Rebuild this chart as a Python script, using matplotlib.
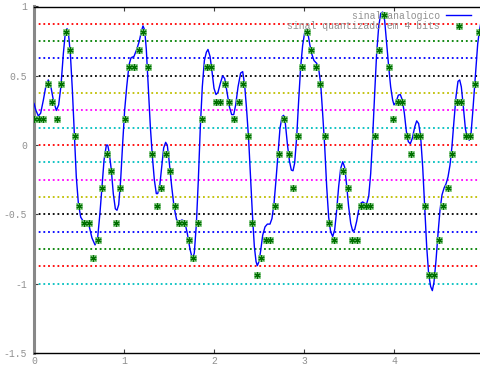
import numpy as np
import matplotlib
matplotlib.use("Agg")
import matplotlib.pyplot as plt
from matplotlib.lines import Line2D

# analog signal
t_analog = [0.000, 0.022, 0.048, 0.074, 0.104, 0.133, 0.159, 0.185, 0.215, 0.248,
            0.274, 0.300, 0.326, 0.348, 0.367, 0.385, 0.404, 0.426, 0.448, 0.470,
            0.493, 0.519, 0.548, 0.585, 0.615, 0.644, 0.678, 0.707, 0.733, 0.756,
            0.778, 0.804, 0.819, 0.837, 0.859, 0.881, 0.904, 0.922, 0.941, 0.963,
            0.985, 1.007, 1.030, 1.056, 1.078, 1.111, 1.141, 1.170, 1.193, 1.211,
            1.230, 1.248, 1.270, 1.293, 1.315, 1.337, 1.359, 1.374, 1.396, 1.419,
            1.441, 1.463, 1.481, 1.504, 1.530, 1.556, 1.585, 1.615, 1.644, 1.674,
            1.704, 1.733, 1.759, 1.781, 1.804, 1.826, 1.848, 1.870, 1.893, 1.915,
            1.933, 1.956, 1.978, 2.000, 2.022, 2.044, 2.070, 2.096, 2.119, 2.144,
            2.170, 2.196, 2.219, 2.241, 2.267, 2.296, 2.319, 2.341, 2.363, 2.385,
            2.404, 2.426, 2.448, 2.467, 2.481, 2.500, 2.519, 2.541, 2.567, 2.593,
            2.622, 2.644, 2.667, 2.689, 2.711, 2.733, 2.756, 2.774, 2.793, 2.815,
            2.837, 2.859, 2.878, 2.896, 2.919, 2.941, 2.963, 2.985, 3.007, 3.022,
            3.040, 3.063, 3.085, 3.111, 3.141, 3.163, 3.185, 3.207, 3.230, 3.252,
            3.274, 3.296, 3.319, 3.341, 3.363, 3.385, 3.407, 3.430, 3.452, 3.474,
            3.496, 3.519, 3.541, 3.563, 3.585, 3.607, 3.630, 3.652, 3.674, 3.696,
            3.719, 3.741, 3.763, 3.785, 3.807, 3.830, 3.852, 3.874, 3.896, 3.919,
            3.941, 3.963, 3.985, 4.000, 4.022, 4.048, 4.070, 4.093, 4.115, 4.137,
            4.159, 4.181, 4.204, 4.230, 4.252, 4.274, 4.296, 4.319, 4.341, 4.363,
            4.385, 4.407, 4.426, 4.444, 4.467, 4.489, 4.511, 4.533, 4.556, 4.578,
            4.600, 4.622, 4.644, 4.667, 4.689, 4.711, 4.730, 4.748, 4.770, 4.793,
            4.815, 4.837, 4.856, 4.874, 4.893, 4.911, 4.930, 4.948, 4.967]
v_analog = [0.30, 0.25, 0.21, 0.23, 0.325, 0.43, 0.47, 0.43, 0.325, 0.25,
            0.29, 0.43, 0.66, 0.81, 0.84, 0.79, 0.66, 0.40, 0.08, -0.23,
            -0.42, -0.52, -0.55, -0.55, -0.59, -0.67, -0.72, -0.67, -0.49, -0.30,
            -0.11, 0.00, 0.00, -0.06, -0.18, -0.35, -0.46, -0.47, -0.43, -0.25,
            0.01, 0.25, 0.42, 0.58, 0.63, 0.64, 0.69, 0.75, 0.82, 0.86,
            0.83, 0.69, 0.42, 0.13, -0.08, -0.25, -0.35, -0.35, -0.30, -0.16,
            -0.02, 0.02, 0.00, -0.13, -0.30, -0.445, -0.54, -0.55, -0.54, -0.55,
            -0.64, -0.75, -0.82, -0.78, -0.57, -0.25, 0.13, 0.42, 0.61, 0.67,
            0.69, 0.64, 0.53, 0.41, 0.365, 0.38, 0.445, 0.50, 0.48, 0.385,
            0.28, 0.22, 0.22, 0.29, 0.42, 0.52, 0.53, 0.43, 0.25, 0.04,
            -0.20, -0.49, -0.73, -0.84, -0.87, -0.84, -0.76, -0.65, -0.59, -0.57,
            -0.57, -0.53, -0.42, -0.25, -0.06, 0.12, 0.205, 0.215, 0.155, 0.01,
            -0.11, -0.18, -0.185, -0.13, 0.06, 0.325, 0.565, 0.72, 0.81, 0.835,
            0.82, 0.73, 0.66, 0.61, 0.59, 0.55, 0.445, 0.23, -0.01, -0.30,
            -0.52, -0.625, -0.66, -0.61, -0.47, -0.30, -0.17, -0.12, -0.16, -0.29,
            -0.445, -0.565, -0.62, -0.61, -0.55, -0.47, -0.42, -0.41, -0.42, -0.425,
            -0.37, -0.205, 0.06, 0.37, 0.66, 0.855, 0.95, 0.96, 0.90, 0.73,
            0.565, 0.42, 0.325, 0.29, 0.31, 0.36, 0.365, 0.325, 0.23, 0.10,
            0.025, 0.01, 0.05, 0.13, 0.175, 0.155, 0.06, -0.16, -0.445, -0.73,
            -0.93, -1.02, -1.05, -0.99, -0.83, -0.64, -0.47, -0.36, -0.31, -0.28,
            -0.23, -0.145, -0.01, 0.18, 0.35, 0.46, 0.47, 0.42, 0.28, 0.12,
            0.05, 0.035, 0.085, 0.23, 0.40, 0.565, 0.73, 0.82, 0.89]

# quantized samples (4 bits), sample period 5/99
n_samples = np.arange(99)
t_quant = n_samples * 5.0 / 99.0
v_quant = [0.1875, 0.1875, 0.1875, 0.4375, 0.3125, 0.1875, 0.4375, 0.8125, 0.6875, 0.0625,
           -0.4375, -0.5625, -0.5625, -0.8125, -0.6875, -0.3125, -0.0625, -0.1875, -0.5625, -0.3125,
           0.1875, 0.5625, 0.5625, 0.6875, 0.8125, 0.5625, -0.0625, -0.4375, -0.3125, -0.0625,
           -0.1875, -0.4375, -0.5625, -0.5625, -0.6875, -0.8125, -0.5625, 0.1875, 0.5625, 0.5625,
           0.3125, 0.3125, 0.4375, 0.3125, 0.1875, 0.3125, 0.4375, 0.0625, -0.5625, -0.9375,
           -0.8125, -0.6875, -0.6875, -0.4375, -0.0625, 0.1875, -0.0625, -0.3125, 0.0625, 0.5625,
           0.8125, 0.6875, 0.5625, 0.4375, 0.0625, -0.5625, -0.6875, -0.4375, -0.1875, -0.3125,
           -0.6875, -0.6875, -0.4375, -0.4375, -0.4375, 0.0625, 0.6875, 0.9375, 0.5625, 0.1875,
           0.3125, 0.3125, 0.0625, -0.0625, 0.0625, 0.0625, -0.4375, -0.9375, -0.9375, -0.6875,
           -0.4375, -0.3125, -0.0625, 0.3125, 0.3125, 0.0625, 0.0625, 0.4375, 0.8125]

# quantization level boundaries (dotted lines) and their colours
levels = [1.0, 0.875, 0.75, 0.625, 0.5, 0.375, 0.25, 0.125, 0.0,
          -0.125, -0.25, -0.375, -0.5, -0.625, -0.75, -0.875, -1.0]
level_colors = ['#ff00ff', '#ff0000', '#008000', '#0000ff', '#000000', '#bfbf00',
                '#ff00ff', '#00bfbf', '#ff0000', '#00bfbf', '#ff00ff', '#bfbf00',
                '#000000', '#0000ff', '#008000', '#ff0000', '#00bfbf']

yticks = [-1.5, -1, -0.5, 0, 0.5, 1]
ytick_labels = ['-1.5', '-1', '-0.5', '0', '0.5', '1']
xticks = [0, 1, 2, 3, 4]
xtick_labels = ['0', '1', '2', '3', '4']

W, H = 481, 366
fig = plt.figure(figsize=(W / 100, H / 100), dpi=100)
x0, x1 = 34, 484
ytop, ybot = 6.5, 353
ax = fig.add_axes([x0 / W, (H - ybot) / H, (x1 - x0) / W, (ybot - ytop) / H])
ax.set_xlim(0, 5)
ax.set_ylim(-1.5, 1)

for lv, c in zip(levels, level_colors):
    ax.axhline(lv, color=c, linestyle=(0, (1, 1.6)), linewidth=1.3, zorder=1)

ax.plot(t_analog, v_analog, color='#0000ff', linewidth=1.0, zorder=3)

sq_style = dict(linestyle='none', marker='s', markersize=4.3,
                markerfacecolor='#a8dca8', markeredgecolor='#6cbf6c',
                markeredgewidth=0.5)
ast_style = dict(linestyle='none', marker=(6, 2, 0), markersize=4.3,
                 markeredgecolor='#007000', markeredgewidth=0.9)
ax.plot(t_quant, v_quant, zorder=4, **sq_style)
ax.plot(t_quant, v_quant, zorder=5, **ast_style)

h_an = Line2D([], [], color='#0000ff', linewidth=1.0)
h_q = (Line2D([], [], **sq_style), Line2D([], [], **ast_style))
mono = 'Liberation Mono'
leg = fig.legend([h_an, h_q], ['sinal analogico', 'sinal quantizado em 4 bits'],
                 loc='upper right', bbox_to_anchor=(476 / W, 1 - 6 / H),
                 frameon=False, markerfirst=False, handlelength=2.6,
                 handletextpad=0.6, labelspacing=0.05, borderpad=0,
                 prop={'family': mono, 'size': 7})
for txt in leg.get_texts():
    txt.set_color('#909090')

ax.set_yticks(yticks)
ax.set_yticklabels(ytick_labels)
ax.set_xticks(xticks)
ax.set_xticklabels(xtick_labels)
for lab in ax.get_xticklabels() + ax.get_yticklabels():
    lab.set_family(mono)
    lab.set_fontsize(7)
    lab.set_color('#909090')
ax.tick_params(axis='x', direction='in', length=3, top=True, bottom=True,
               pad=2, color='#404040')
ax.tick_params(axis='y', direction='in', length=3, left=True, right=False,
               pad=5, color='#404040')
ax.spines['left'].set_color('#888888')
ax.spines['left'].set_linewidth(2.2)
ax.spines['bottom'].set_color('black')
ax.spines['bottom'].set_linewidth(1.0)
ax.spines['top'].set_color('black')
ax.spines['top'].set_linewidth(1.0)
ax.spines['right'].set_visible(False)

fig.savefig('out.png', dpi=100)
